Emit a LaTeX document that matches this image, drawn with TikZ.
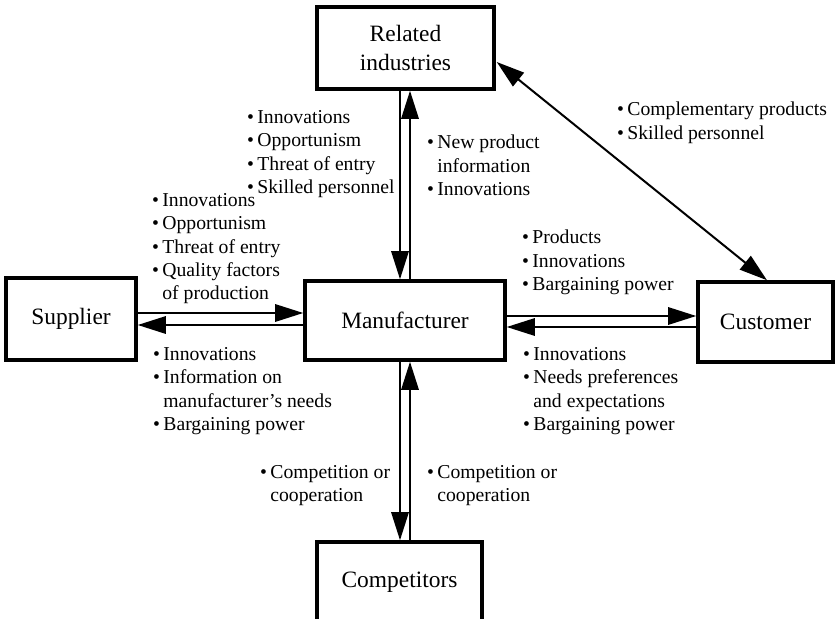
\documentclass[tikz,border=0pt]{standalone}
\usepackage{fontspec}
\setmainfont{Liberation Serif}
\usetikzlibrary{arrows.meta,calc}
\newcommand{\bul}{\textbullet\,}
\newcommand{\ind}{\hphantom{\textbullet\,}}

\begin{document}
\begin{tikzpicture}[x=0.03cm,y=-0.03cm,
    box/.style={draw,line width=3pt,align=center,inner sep=0pt,
      font=\fontsize{20}{24.7}\selectfont},
    lbl/.style={anchor=north west,inner sep=0pt,align=left,
      font=\fontsize{16.8}{20}\selectfont},
    flow/.style={line width=1.7pt,-{Triangle[length=0.84cm,width=0.52cm]}},
    both/.style={line width=1.7pt,{Triangle[length=0.84cm,width=0.52cm]}-{Triangle[length=0.84cm,width=0.52cm]}}]
    \useasboundingbox (0,0) rectangle (836,619);

    % the five parties
    \node[box,minimum width=5.31cm,minimum height=2.46cm] (rel) at (405.5,48) {Related\\industries};
    \node[box,minimum width=3.9cm,minimum height=2.46cm] (sup) at (71,319) {Supplier};
    \node[box,minimum width=6cm,minimum height=2.37cm] (man) at (405,320.5) {Manufacturer};
    \node[box,minimum width=4.05cm,minimum height=2.4cm] (cus) at (765.5,322) {Customer};
    \node[box,minimum width=4.95cm,minimum height=2.4cm] (com) at (399.5,582) {Competitors};

    % flows between them
    \draw[flow] ($(sup.east)+(0,-6)$) -- ($(man.west)+(0,-7.5)$);
    \draw[flow] ($(man.west)+(0,4.5)$) -- ($(sup.east)+(0,6)$);
    \draw[flow] ($(man.east)+(0,-4.5)$) -- ($(cus.west)+(0,-6)$);
    \draw[flow] ($(cus.west)+(0,5)$) -- ($(man.east)+(0,6.5)$);
    \draw[flow] ($(rel.south)+(-5.5,0)$) -- ($(man.north)+(-5,0)$);
    \draw[flow] ($(man.north)+(5,0)$) -- ($(rel.south)+(4.5,0)$);
    \draw[flow] ($(man.south)+(-5,0)$) -- ($(com.north)+(0.5,0)$);
    \draw[flow] ($(com.north)+(10.5,0)$) -- ($(man.south)+(5,0)$);
    \draw[both] ($(rel.east)+(1,14)$) -- ($(cus.north)+(1.5,0)$);

    % what flows
    \node[lbl] (l1) at (247,110) {\bul Innovations\\\bul Opportunism\\\bul Threat of entry\\\bul Skilled personnel};
    \node[lbl] (l2) at (152,193) {\bul Innovations\\\bul Opportunism\\\bul Threat of entry\\\bul Quality factors\\\ind of production};
    \node[lbl] (l3) at (427,135) {\bul New product\\\ind information\\\bul Innovations};
    \node[lbl] (l4) at (617,102) {\bul Complementary products\\\bul Skilled personnel};
    \node[lbl] (l5) at (522,230) {\bul Products\\\bul Innovations\\\bul Bargaining power};
    \node[lbl] (l6) at (153,347) {\bul Innovations\\\bul Information on\\\ind manufacturer's needs\\\bul Bargaining power};
    \node[lbl] (l7) at (523,347) {\bul Innovations\\\bul Needs preferences\\\ind and expectations\\\bul Bargaining power};
    \node[lbl] (l8) at (260,465) {\bul Competition or\\\ind cooperation};
    \node[lbl] (l9) at (427,465) {\bul Competition or\\\ind cooperation};
  \end{tikzpicture}
\end{document}
